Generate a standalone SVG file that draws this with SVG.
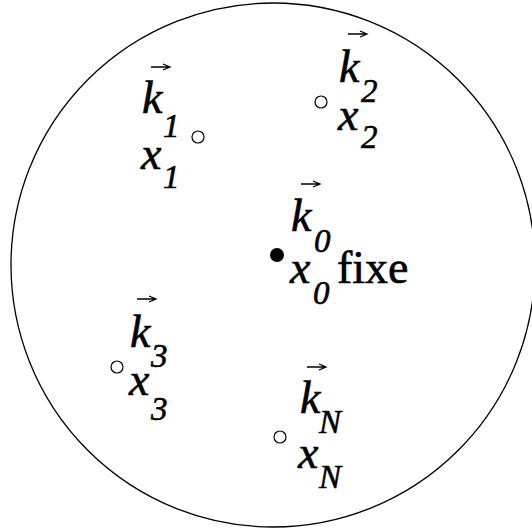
<svg xmlns="http://www.w3.org/2000/svg" width="532" height="529" viewBox="0 0 532 529">
<style>
text{font-family:'Liberation Serif','Times New Roman','Nimbus Roman','DejaVu Serif',serif;fill:#000;stroke:#000;stroke-width:0.6}
.m{font-style:italic;font-size:46px}
.s{font-style:italic;font-size:33px}
.u{font-size:46px}
.pt{fill:#fff;stroke:#000;stroke-width:1.2}
.vec{fill:none;stroke:#000;stroke-width:1.3}
</style>
<defs>
<path id="arr" class="vec" d="M0,0 H19 M12,-3 L19,0 L12,3"/>
</defs>
<rect width="532" height="529" fill="#fff"/>
<circle cx="273" cy="265" r="262" fill="none" stroke="#000" stroke-width="1.3"/>
<g id="n1">
<use href="#arr" x="151" y="67"/>
<text class="m" x="142" y="113">k</text><text class="s" x="163" y="137">1</text>
<text class="m" x="141" y="169">x</text><text class="s" x="163" y="188">1</text>
<circle class="pt" cx="198" cy="137" r="6"/>
</g>
<g id="n2">
<use href="#arr" x="348" y="34"/>
<text class="m" x="339" y="82">k</text><text class="s" x="361" y="102">2</text>
<text class="m" x="338" y="130">x</text><text class="s" x="361" y="148">2</text>
<circle class="pt" cx="321" cy="102" r="6"/>
</g>
<g id="n0">
<use href="#arr" x="301" y="184"/>
<text class="m" x="291" y="231">k</text><text class="s" x="314" y="252">0</text>
<text class="m" x="290" y="283">x</text><text class="s" x="313" y="304">0</text>
<text class="u" x="337" y="283">fixe</text>
<circle cx="277" cy="255" r="7" fill="#000"/>
</g>
<g id="n3">
<use href="#arr" x="137" y="299"/>
<text class="m" x="130" y="347">k</text><text class="s" x="151" y="367">3</text>
<text class="m" x="129" y="395">x</text><text class="s" x="151" y="420">3</text>
<circle class="pt" cx="117" cy="367" r="6"/>
</g>
<g id="nN">
<use href="#arr" x="307" y="367"/>
<text class="m" x="300" y="413">k</text><text class="s" x="319" y="433">N</text>
<text class="m" x="298" y="468">x</text><text class="s" x="319" y="488">N</text>
<circle class="pt" cx="280" cy="437" r="6"/>
</g>
<g id="connectors"/>
</svg>
